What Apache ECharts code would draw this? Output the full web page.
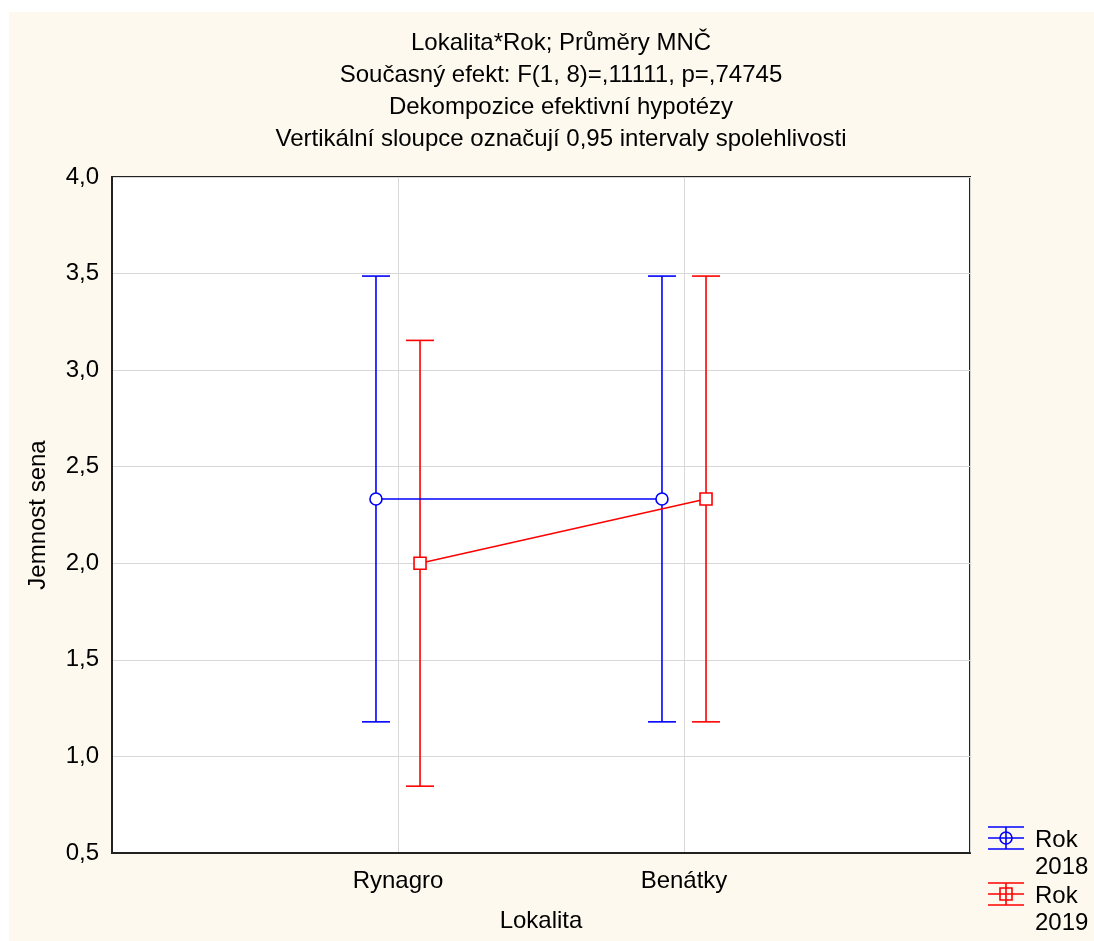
<!DOCTYPE html>
<html>
<head>
<meta charset="utf-8">
<script src="https://cdn.jsdelivr.net/npm/echarts@6/dist/echarts.min.js"></script>
<style>
  html, body { margin: 0; padding: 0; background: #fff; }
  #chart { width: 1094px; height: 941px; }
</style>
</head>
<body>
<div id="chart"></div>
<script>
// data
var categories = ['Rynagro', 'Benátky'];
var years = ['2018', '2019'];
var mean2018 = [2.333, 2.333];
var low2018 = [1.179, 1.179];
var high2018 = [3.487, 3.487];
var mean2019 = [2.0, 2.333];
var low2019 = [0.846, 1.179];
var high2019 = [3.154, 3.487];
var yTicks = [0.5, 1.0, 1.5, 2.0, 2.5, 3.0, 3.5, 4.0];

var BLUE = '#0000ff', RED = '#ff0000';
var shift = 0.077; // horizontal offset of the two years
var FS = 24;

function pts(means, dx) {
  return means.map(function (m, i) { return [i + 1 + dx, m]; });
}
function bars(low, high, dx) {
  return low.map(function (l, i) { return [i + 1 + dx, l, high[i]]; });
}
function errRender(color) {
  return function (params, api) {
    var x = api.value(0);
    var a = api.coord([x, api.value(1)]);
    var b = api.coord([x, api.value(2)]);
    var w = 14;
    var st = { stroke: color, lineWidth: 1.6 };
    return {
      type: 'group',
      children: [
        { type: 'line', shape: { x1: a[0], y1: a[1], x2: b[0], y2: b[1] }, style: st },
        { type: 'line', shape: { x1: a[0] - w, y1: a[1], x2: a[0] + w, y2: a[1] }, style: st },
        { type: 'line', shape: { x1: b[0] - w, y1: b[1], x2: b[0] + w, y2: b[1] }, style: st }
      ]
    };
  };
}

function legendItem(y, color, sym, year) {
  var st = { stroke: color, lineWidth: 1.6 };
  var mark = sym === 'circle'
    ? { type: 'circle', shape: { cx: 1006, cy: y, r: 6 }, style: { stroke: color, fill: 'none', lineWidth: 1.6 } }
    : { type: 'rect', shape: { x: 1000, y: y - 6, width: 12, height: 12 }, style: { stroke: color, fill: 'none', lineWidth: 1.6 } };
  return [
    { type: 'line', shape: { x1: 988, y1: y - 11, x2: 1024, y2: y - 11 }, style: st },
    { type: 'line', shape: { x1: 988, y1: y, x2: 1024, y2: y }, style: st },
    { type: 'line', shape: { x1: 988, y1: y + 11, x2: 1024, y2: y + 11 }, style: st },
    { type: 'line', shape: { x1: 1006, y1: y - 11, x2: 1006, y2: y + 11 }, style: st },
    mark,
    { type: 'text', x: 1035, y: y - 11, style: { text: 'Rok\n' + year, fill: '#000', font: FS + 'px "Liberation Sans", Arial', lineHeight: 27, verticalAlign: 'top' } }
  ];
}

var chart = echarts.init(document.getElementById('chart'));
var fontFam = '"Liberation Sans", Arial, sans-serif';

chart.setOption({
  animation: false,
  backgroundColor: '#fff',
  textStyle: { fontFamily: fontFam },
  title: {
    text: 'Lokalita*Rok; Průměry MNČ\nSoučasný efekt: F(1, 8)=,11111, p=,74745\nDekompozice efektivní hypotézy\nVertikální sloupce označují 0,95 intervaly spolehlivosti',
    left: 556,
    textAlign: 'center',
    top: 22,
    textStyle: { fontSize: FS, fontWeight: 'normal', color: '#000', lineHeight: 32, fontFamily: fontFam }
  },
  grid: {
    left: 112, top: 177, right: 124, bottom: 88,
    show: true, backgroundColor: '#fff', borderColor: '#222', borderWidth: 2
  },
  xAxis: {
    type: 'value', min: 0, max: 3, interval: 1,
    name: 'Lokalita', nameLocation: 'middle', nameGap: 56,
    nameTextStyle: { fontSize: FS, color: '#000' },
    axisLine: { show: true, lineStyle: { color: '#222', width: 2 } },
    axisTick: { show: false },
    axisLabel: {
      fontSize: FS, color: '#000', margin: 16,
      formatter: function (v) { return categories[v - 1] || ''; }
    },
    splitLine: { show: true, lineStyle: { color: '#d8d8d8', width: 1 } }
  },
  yAxis: {
    type: 'value', min: yTicks[0], max: yTicks[yTicks.length - 1], interval: 0.5,
    name: 'Jemnost sena', nameLocation: 'middle', nameGap: 62,
    nameTextStyle: { fontSize: FS, color: '#000' },
    axisLine: { show: true, lineStyle: { color: '#222', width: 2 } },
    axisTick: { show: false },
    axisLabel: {
      fontSize: FS, color: '#000', margin: 13,
      formatter: function (v) { return v.toFixed(1).replace('.', ','); }
    },
    splitLine: { show: true, lineStyle: { color: '#d8d8d8', width: 1 } }
  },
  graphic: [
    { type: 'rect', shape: { x: 9, y: 12, width: 1085, height: 929 }, style: { fill: '#fdf9ee' }, z: -10, silent: true }
  ].concat(legendItem(838, BLUE, 'circle', years[0]), legendItem(894, RED, 'rect', years[1])),
  series: [
    { type: 'custom', name: 'ci2018', renderItem: errRender(BLUE), data: bars(low2018, high2018, -shift), z: 3 },
    { type: 'custom', name: 'ci2019', renderItem: errRender(RED), data: bars(low2019, high2019, shift), z: 3 },
    {
      type: 'line', name: 'Rok ' + years[0], data: pts(mean2018, -shift),
      symbol: 'circle', symbolSize: 12,
      lineStyle: { color: BLUE, width: 1.6 },
      itemStyle: { color: '#fff', borderColor: BLUE, borderWidth: 1.6 }, z: 4
    },
    {
      type: 'line', name: 'Rok ' + years[1], data: pts(mean2019, shift),
      symbol: 'rect', symbolSize: 12,
      lineStyle: { color: RED, width: 1.6 },
      itemStyle: { color: '#fff', borderColor: RED, borderWidth: 1.6 }, z: 4
    }
  ]
});
</script>
</body>
</html>
